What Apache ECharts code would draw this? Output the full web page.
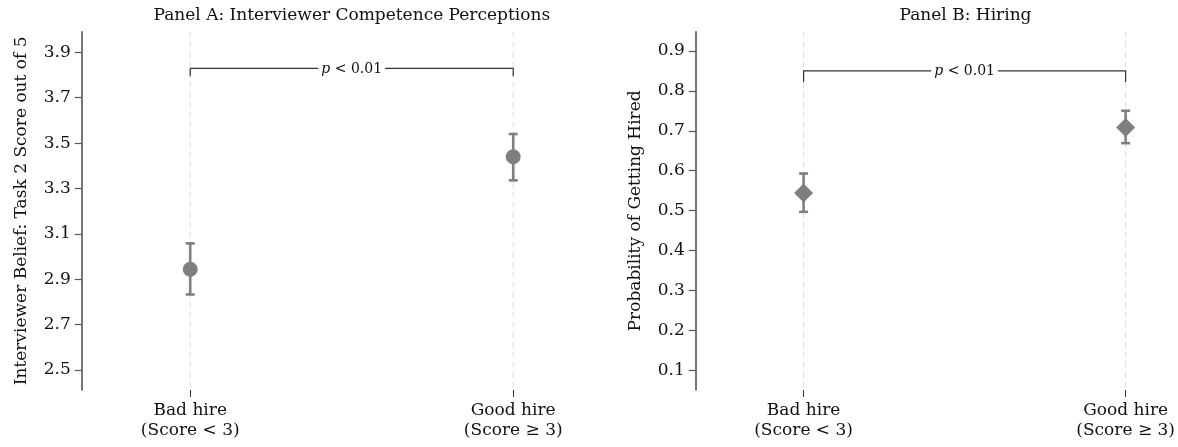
<!DOCTYPE html>
<html><head><meta charset="utf-8">
<script src="https://cdn.jsdelivr.net/npm/echarts@6/dist/echarts.min.js"></script>
<style>html,body{margin:0;padding:0;background:#fff}#c{width:1178px;height:447px}</style>
</head><body><div id="c"></div>
<script>
// ---- data ----
const categories = ['Bad hire\n(Score < 3)', 'Good hire\n(Score \u2265 3)'];
const catPos = [0, 1];
const panelTitles = ['Panel A: Interviewer Competence Perceptions', 'Panel B: Hiring'];
const yTitles = ['Interviewer Belief: Task 2 Score out of 5', 'Probability of Getting Hired'];
const beliefMean = [2.944, 3.440];
const beliefLow = [2.833, 3.336];
const beliefHigh = [3.058, 3.540];
const hireMean = [0.544, 0.708];
const hireLow = [0.497, 0.669];
const hireHigh = [0.593, 0.750];
const beliefTicks = [2.5, 2.7, 2.9, 3.1, 3.3, 3.5, 3.7, 3.9];
const hireTicks = [0.1, 0.2, 0.3, 0.4, 0.5, 0.6, 0.7, 0.8, 0.9];
const pText = 'p < 0.01';
const bracketA = [3.829, 3.795];   // bar level, tip level
const bracketB = [0.850, 0.822];

// ---- styles ----
const FONT = 'DejaVu Serif';
const GRAY = '#7f7f7f';
const AX = '#555555';
const TXT = '#111111';

const chart = echarts.init(document.getElementById('c'), null, {renderer: 'canvas'});

function xAxisFor(idx, min, max) {
  return {
    gridIndex: idx, type: 'value', min: min, max: max,
    axisLine: {show: false, onZero: false},
    splitLine: {show: false},
    axisTick: {show: true, customValues: catPos, length: 7, lineStyle: {color: '#333', width: 1}},
    axisLabel: {show: true, customValues: catPos, margin: 11, fontFamily: FONT, fontSize: 17, lineHeight: 20, color: TXT,
      formatter: v => categories[Math.round(v)]}
  };
}
function yAxisFor(idx, min, max, ticks, name) {
  return {
    gridIndex: idx, type: 'value', min: min, max: max,
    name: name, nameLocation: 'middle', nameGap: 52, nameRotate: 90,
    nameTextStyle: {fontFamily: FONT, fontSize: 17, color: TXT},
    axisLine: {show: true, onZero: false, lineStyle: {color: AX, width: 1.6}},
    splitLine: {show: false},
    axisTick: {show: true, customValues: ticks, length: 7, lineStyle: {color: AX, width: 1.2}},
    axisLabel: {show: true, customValues: ticks, margin: 11, fontFamily: FONT, fontSize: 17, color: TXT,
      formatter: v => v.toFixed(1)}
  };
}

function gridLines(idx) {
  return {
    type: 'custom', xAxisIndex: idx, yAxisIndex: idx, z: 0, silent: true,
    data: catPos.map(x => [x]),
    renderItem: function (params, api) {
      const cs = params.coordSys;
      const x = api.coord([api.value(0), 0])[0];
      return {type: 'line', shape: {x1: x, y1: cs.y, x2: x, y2: cs.y + cs.height - 2},
        style: {stroke: '#dddddd', lineWidth: 1, lineDash: [6, 4]}};
    }
  };
}
function errorBars(idx, low, high) {
  return {
    type: 'custom', xAxisIndex: idx, yAxisIndex: idx, z: 2, silent: true,
    data: catPos.map((x, i) => [x, low[i], high[i]]),
    encode: {x: 0, y: [1, 2]},
    renderItem: function (params, api) {
      const lo = api.coord([api.value(0), api.value(1)]);
      const hi = api.coord([api.value(0), api.value(2)]);
      const w = 4.5;
      const st = {stroke: GRAY, lineWidth: 2.6};
      return {type: 'group', children: [
        {type: 'line', shape: {x1: lo[0], y1: lo[1], x2: hi[0], y2: hi[1]}, style: st},
        {type: 'line', shape: {x1: lo[0] - w, y1: lo[1], x2: lo[0] + w, y2: lo[1]}, style: st},
        {type: 'line', shape: {x1: hi[0] - w, y1: hi[1], x2: hi[0] + w, y2: hi[1]}, style: st}
      ]};
    }
  };
}
function bracket(idx, br) {
  return {
    type: 'custom', xAxisIndex: idx, yAxisIndex: idx, z: 3, silent: true,
    data: [[catPos[0], catPos[1], br[0], br[1]]],
    encode: {x: [0, 1], y: [2, 3]},
    renderItem: function (params, api) {
      const a = api.coord([api.value(0), api.value(3)]);
      const b = api.coord([api.value(0), api.value(2)]);
      const c = api.coord([api.value(1), api.value(2)]);
      const d = api.coord([api.value(1), api.value(3)]);
      return {type: 'group', children: [
        {type: 'polyline', shape: {points: [a, b, c, d]}, style: {stroke: '#333', lineWidth: 1.2, fill: null}},
        {type: 'text', z2: 10, style: {
          text: '{i|p}{n| < 0.01}', x: (b[0] + c[0]) / 2, y: b[1] + 1,
          align: 'center', verticalAlign: 'middle',
          backgroundColor: '#fff', padding: [0, 3],
          fill: TXT, fontFamily: FONT, fontSize: 14,
          rich: {i: {fontStyle: 'italic', fontFamily: FONT, fontSize: 14, fill: TXT},
                 n: {fontFamily: FONT, fontSize: 14, fill: TXT}}
        }}
      ]};
    }
  };
}

const titleStyle = {fontFamily: FONT, fontSize: 17, fontWeight: 'normal', color: TXT, lineHeight: 20};

chart.setOption({
  animation: false,
  backgroundColor: '#fff',
  title: [
    {text: panelTitles[0], left: 351.8, top: 6, textAlign: 'center', padding: 0, textStyle: titleStyle},
    {text: panelTitles[1], left: 965.5, top: 6, textAlign: 'center', padding: 0, textStyle: titleStyle}
  ],
  grid: [
    {left: 81.7, top: 31.7, bottom: 57, width: 510, containLabel: false},
    {left: 695.7, top: 31.7, bottom: 57, width: 480, containLabel: false}
  ],
  xAxis: [xAxisFor(0, -0.336, 1.243), xAxisFor(1, -0.335, 1.151)],
  yAxis: [yAxisFor(0, 2.412, 3.991, beliefTicks, yTitles[0]), yAxisFor(1, 0.051, 0.948, hireTicks, yTitles[1])],
  series: [
    gridLines(0), gridLines(1),
    errorBars(0, beliefLow, beliefHigh),
    errorBars(1, hireLow, hireHigh),
    {type: 'scatter', xAxisIndex: 0, yAxisIndex: 0, z: 4, symbol: 'circle', symbolSize: 15,
      itemStyle: {color: GRAY, opacity: 1}, silent: true,
      data: catPos.map((x, i) => [x, beliefMean[i]])},
    {type: 'scatter', xAxisIndex: 1, yAxisIndex: 1, z: 4, symbol: 'diamond', symbolSize: [19, 19],
      itemStyle: {color: GRAY, opacity: 1}, silent: true,
      data: catPos.map((x, i) => [x, hireMean[i]])},
    bracket(0, bracketA), bracket(1, bracketB)
  ]
});
</script>
</body></html>
